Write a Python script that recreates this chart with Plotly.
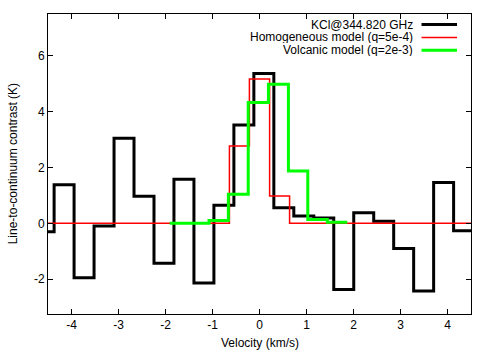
import plotly.graph_objects as go

# ---- data ----
kcl_velocity = [-4.58, -4.16, -3.73, -3.31, -2.88, -2.46, -2.03, -1.61, -1.18, -0.76, -0.33,
                0.09, 0.52, 0.94, 1.37, 1.79, 2.22, 2.64, 3.07, 3.49, 3.92, 4.34]
kcl_contrast = [-0.3, 1.38, -1.95, -0.1, 3.05, 0.97, -1.43, 1.58, -2.14, 0.65, 3.52,
                5.37, 0.56, 0.26, 0.19, -2.37, 0.38, 0.07, -0.9, -2.43, 1.46, -0.27]

homog_velocity = [-4.68, -4.25, -3.83, -3.40, -2.98, -2.55, -2.13, -1.70, -1.28, -0.85, -0.43,
                  0.0, 0.43, 0.85, 1.28, 1.70, 2.13, 2.55, 2.98, 3.40, 3.83, 4.25, 4.68]
homog_contrast = [0, 0, 0, 0, 0, 0, 0, 0, 0, 0, 2.77,
                  5.17, 0.98, 0, 0, 0, 0, 0, 0, 0, 0, 0, 0]

volc_velocity = [-1.70, -1.28, -0.87, -0.455, -0.025, 0.405, 0.825, 1.23, 1.655]
volc_contrast = [0, 0, 0.1, 1.04, 4.33, 4.98, 1.87, 0.14, 0.04]

series_names = ["KCl@344.820 GHz", "Homogeneous model (q=5e-4)", "Volcanic model (q=2e-3)"]
series_colors = ["#000000", "#ff0000", "#00ff00"]
series_widths = [3, 1.5, 3]

x_tickvals = [-4, -3, -2, -1, 0, 1, 2, 3, 4]
x_ticktext = ["-4", "-3", "-2", "-1", "0", "1", "2", "3", "4"]
y_tickvals = [-2, 0, 2, 4, 6]
y_ticktext = ["-2", "0", "2", "4", "6"]


def histeps(xc, yc):
    """gnuplot-style histeps: steps centred on each data point."""
    edges = [xc[0] - (xc[1] - xc[0]) / 2]
    for a, b in zip(xc[:-1], xc[1:]):
        edges.append((a + b) / 2)
    edges.append(xc[-1] + (xc[-1] - xc[-2]) / 2)
    return edges, list(yc) + [yc[-1]]


fig = go.Figure()
datasets = [(kcl_velocity, kcl_contrast), (homog_velocity, homog_contrast), (volc_velocity, volc_contrast)]
for (xc, yc), name, col, w in zip(datasets, series_names, series_colors, series_widths):
    xs, ys = histeps(xc, yc)
    fig.add_trace(go.Scatter(x=xs, y=ys, mode="lines", line=dict(color=col, width=w, shape="hv"),
                             name=name, showlegend=False, hoverinfo="skip"))

# gnuplot-style legend (text right, sample line on the right)
leg_y = [0.965, 0.922, 0.879]
for name, col, w, yy in zip(series_names, series_colors, series_widths, leg_y):
    fig.add_annotation(x=0.866, y=yy, xref="paper", yref="paper", text=name, showarrow=False,
                       xanchor="right", yanchor="middle", font=dict(size=12, color="black"),
                       borderpad=0, height=12, valign="middle")
    fig.add_shape(type="line", xref="paper", yref="paper", x0=0.883, x1=0.967, y0=yy, y1=yy,
                  line=dict(color=col, width=w))

# axis titles placed like gnuplot
fig.add_annotation(x=-0.082, y=0.5, xref="paper", yref="paper", text="Line-to-continuum contrast (K)",
                   textangle=-90, showarrow=False, xanchor="center", yanchor="middle",
                   font=dict(size=12, color="black"))
fig.add_annotation(x=0.5, y=-0.095, xref="paper", yref="paper", text="Velocity (km/s)",
                   showarrow=False, xanchor="center", yanchor="middle",
                   font=dict(size=12, color="black"))

axis_common = dict(showgrid=False, zeroline=False, showline=True, linecolor="black", linewidth=1,
                   mirror="ticks", ticks="inside", ticklen=5, tickcolor="black", tickwidth=1,
                   tickfont=dict(size=12, color="black"), automargin=False)

fig.update_xaxes(range=[-4.5, 4.5], tickvals=x_tickvals, ticktext=x_ticktext, **axis_common)
fig.update_yaxes(range=[-3.25, 7.5], tickvals=y_tickvals, ticktext=y_ticktext, **axis_common)

fig.update_layout(width=491, height=352, margin=dict(l=48, r=20, t=14, b=38),
                  paper_bgcolor="white", plot_bgcolor="white",
                  font=dict(family="Liberation Sans, Arial, sans-serif", size=12, color="black"))

fig.write_html("out.html", config={"displayModeBar": False},
               post_script="document.body.style.margin='0';")
